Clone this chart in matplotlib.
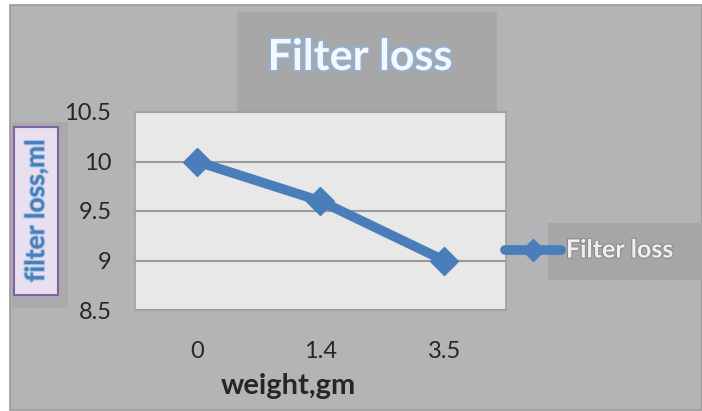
import matplotlib.pyplot as plt
import matplotlib.patheffects as pe
from matplotlib.patches import Rectangle

plt.rcParams['font.family'] = ['Lato', 'DejaVu Sans']

# data
weights = ['0', '1.4', '3.5']
filter_loss = [10.0, 9.6, 9.0]
y_ticks = [8.5, 9, 9.5, 10, 10.5]
y_tick_labels = ['8.5', '9', '9.5', '10', '10.5']

W, H = 702, 411
BG = '#b3b4b6'
BLUE = '#4a7ebb'

fig = plt.figure(figsize=(W / 100, H / 100), dpi=100)
fig.patch.set_facecolor('white')


def box(x0, y0, x1, y1, z=0, **kw):
    # pixel coordinates, top-left origin
    r = Rectangle((x0 / W, 1 - y1 / H), (x1 - x0) / W, (y1 - y0) / H,
                  transform=fig.transFigure, zorder=z, **kw)
    fig.patches.append(r)
    return r


# chart area with border
box(10, 5, 702, 410, z=-3, facecolor=BG, edgecolor='#9a9a9a', linewidth=1.2)
# title background
box(237, 12, 497, 112, z=-2, facecolor='#a7a7a7', edgecolor='none')
# y label shaded background
box(12, 122, 68, 308, z=-2, facecolor='#a9aaac', edgecolor='none')
# legend background
box(548, 223, 702, 280, z=-2, facecolor='#a6a6a6', edgecolor='none')

ax = fig.add_axes([135 / W, 1 - 310 / H, (506 - 135) / W, (310 - 112) / H])
ax.set_zorder(2)
ax.set_facecolor('#e8e8e8')
for s in ax.spines.values():
    s.set_color('#a0a0a0')
    s.set_linewidth(1.2)

x = range(len(weights))
ax.plot(x, filter_loss, color=BLUE, linewidth=7, marker='D', markersize=14,
        solid_capstyle='round', zorder=3, clip_on=False)
ax.set_xlim(-0.5, len(weights) - 0.5)
ax.set_ylim(8.5, 10.5)
ax.set_yticks(y_ticks)
ax.set_yticklabels(y_tick_labels)
ax.set_xticks(list(x))
ax.set_xticklabels(weights)
ax.yaxis.grid(True, color='#9a9a9a', linewidth=1.5)
ax.set_axisbelow(True)
ax.tick_params(length=0, labelsize=17, colors='#262626')
ax.tick_params(axis='y', pad=17)
ax.tick_params(axis='x', pad=22)

# title
fig.text(360 / W, 1 - 57 / H, 'Filter loss', ha='center', va='center',
         fontsize=31, fontweight='bold', color='#f4f8fc', zorder=3,
         path_effects=[pe.withStroke(linewidth=2.5, foreground='#8fb0d6')])

# x label
fig.text(288 / W, 1 - 386 / H, 'weight,gm', ha='center', va='center',
         fontsize=21, fontweight='bold', color='#262626', zorder=3)

# y label box
box(14, 127, 58, 295, z=-1, facecolor='#e8dff0', edgecolor='#8064a2',
    linewidth=1.5)
fig.text(36 / W, 1 - 211 / H, 'filter loss,ml', ha='center', va='center',
         rotation=90, fontsize=19, fontweight='bold', color=BLUE, zorder=3,
         path_effects=[pe.withStroke(linewidth=1.5, foreground='#a9c4e4')])

# legend
lx0, lx1, ly = 505 / W, 561 / W, 1 - 250 / H
fig.lines.append(plt.Line2D([lx0, lx1], [ly, ly], transform=fig.transFigure,
                            color=BLUE, linewidth=7, solid_capstyle='round',
                            zorder=3))
fig.lines.append(plt.Line2D([(lx0 + lx1) / 2], [ly], transform=fig.transFigure,
                            color=BLUE, marker='D', markersize=11,
                            linestyle='none', zorder=3))
fig.text(566 / W, ly, 'Filter loss', ha='left', va='center', fontsize=18,
         fontweight='bold', color='#f0f0f0', zorder=3,
         path_effects=[pe.withStroke(linewidth=1.5, foreground='#8a8a8a')])

fig.savefig('out.png', dpi=100, facecolor=fig.get_facecolor())
